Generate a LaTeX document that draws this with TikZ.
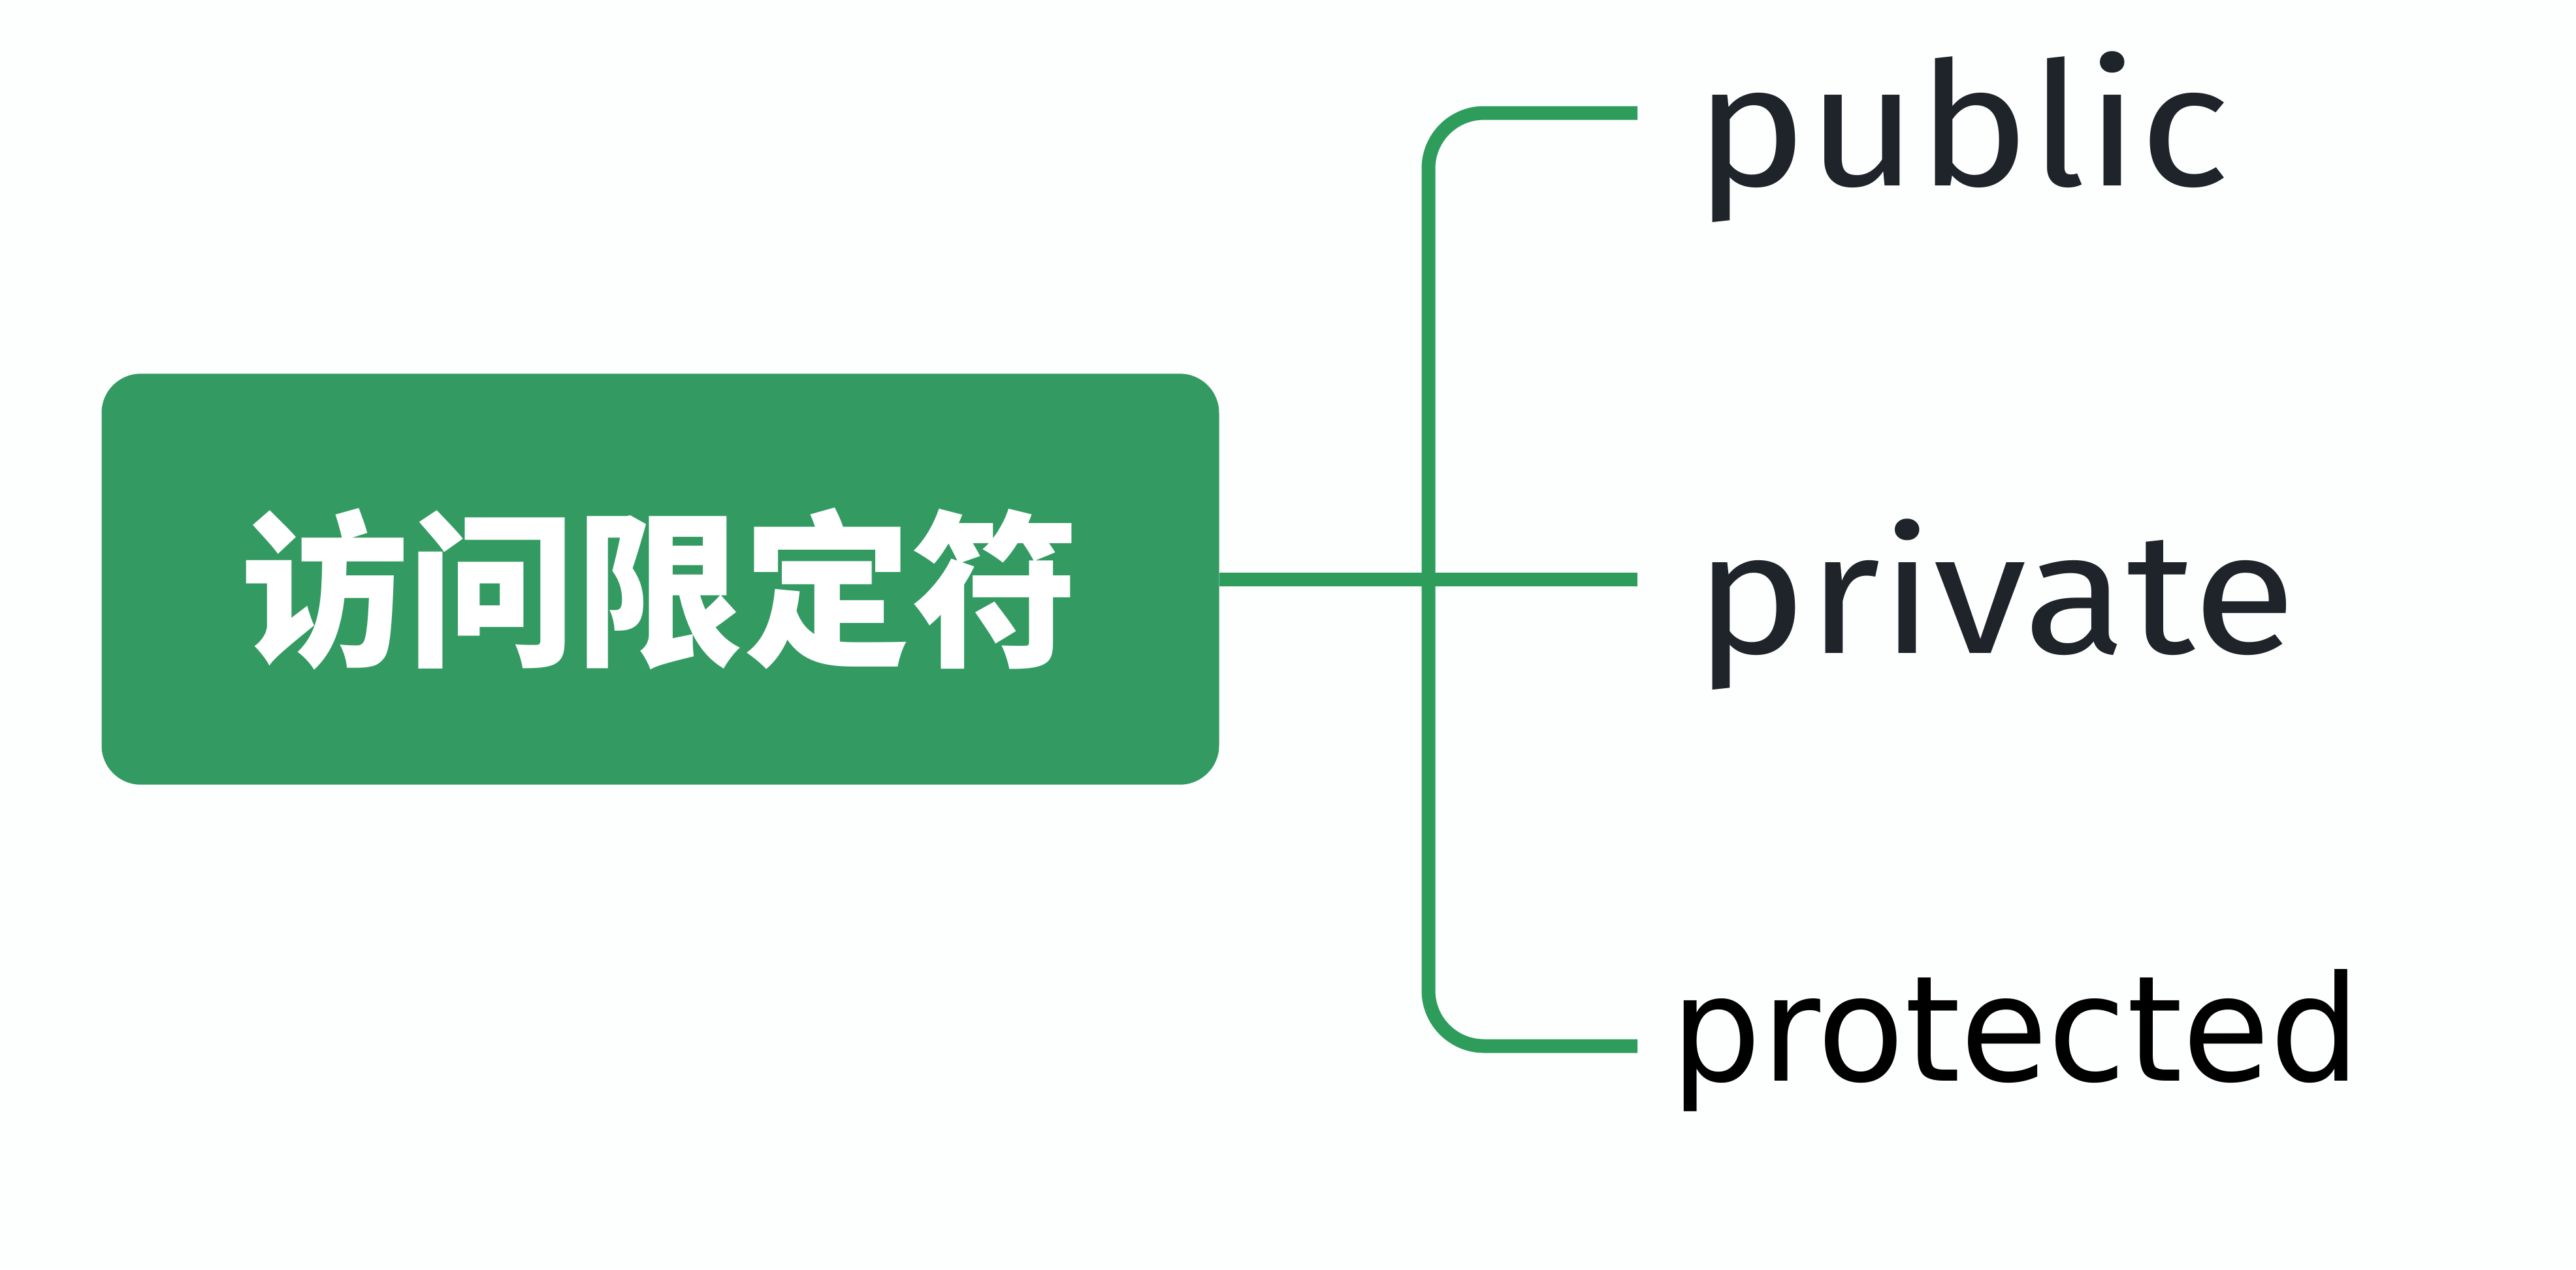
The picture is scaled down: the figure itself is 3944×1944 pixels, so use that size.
\documentclass[tikz,border=0pt]{standalone}
\usepackage{fontspec}
\setmainfont{Fira Sans}[FakeStretch=1.1]
\newfontfamily\cjk{Noto Sans CJK SC}
\newfontfamily\narrowsans{DejaVu Sans}[FakeStretch=0.97]
\usetikzlibrary{positioning}
\definecolor{amgreen}{HTML}{339B62}
\definecolor{amline}{HTML}{2E9D5C}
\definecolor{amink}{HTML}{1F242B}
\definecolor{ampaper}{HTML}{FDFEFE}

\begin{document}
\begin{tikzpicture}[
      x=0.01cm, y=-0.01cm,
      rootbox/.style={
        rectangle, rounded corners=0.6cm,
        minimum width=17.1cm, minimum height=6.29cm,
        fill=amgreen, inner sep=0pt
      },
      leaf/.style={
        anchor=base west, inner sep=0pt,
        text=amink, font=\fontsize{75}{80}\selectfont
      },
      branch/.style={amline, line width=0.21cm, rounded corners=0.85cm}
    ]
      % Canvas
      \fill[ampaper] (0,0) rectangle (3944,1944);
      \useasboundingbox (0,0) rectangle (3944,1944);

      % Root
      \node[rootbox] (root) at (1011,887) {};
      \node[font=\cjk\bfseries\fontsize{73}{80}\selectfont, text=white] (title) at (1010,902) {访问限定符};

      % Leaves
      \node[leaf] (pub) at (2594,284) {public};
      \node[leaf] (priv) at (2594,1000) {private};
      \node[leaf, font=\narrowsans\fontsize{64}{70}\selectfont, text=black] (prot) at (2558,1655) {protected};

      % Fork
      \coordinate (fork) at (2187,887);
      \coordinate (pubend) at (2507,173);
      \coordinate (privend) at (2507,887);
      \coordinate (protend) at (2507,1602);

      % Connectors
      \draw[branch] (root.east) -- (privend);
      \draw[branch] (pubend) -- (fork |- pubend) -- (fork |- protend) -- (protend);
    \end{tikzpicture}
\end{document}
